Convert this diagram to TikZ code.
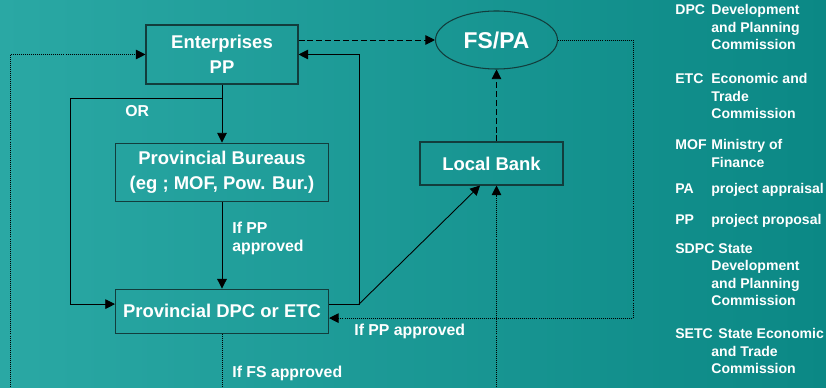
\documentclass[tikz,border=0pt]{standalone}
\usepackage{fontspec}
\setmainfont{Liberation Sans}
\usetikzlibrary{shapes.geometric, arrows.meta, positioning, calc}
\definecolor{bgLight}{HTML}{2AA8A4}
\definecolor{bgDark}{HTML}{0B8885}
\definecolor{boxLine}{HTML}{123D3C}
\newcommand{\legEntry}[4]{%
	\node[legend, anchor=north west] (#1) at (13.5,#2) {#3};
	\node[legend, anchor=north west, align=left] (#1-txt) at (14.22,#2) {#4};}

\begin{document}
\begin{tikzpicture}[
	box/.style={draw=boxLine, line width=0.6pt, text=white, align=center, font=\fontsize{10.5}{14.5}\selectfont\bfseries},
	lbl/.style={text=white, inner sep=0pt, align=left, font=\fontsize{9}{10}\selectfont\bfseries},
	legend/.style={text=white, inner sep=0pt, font=\fontsize{8}{10}\selectfont\bfseries},
	flow/.style={line width=0.5pt, -{Triangle[length=5.5pt,width=5.5pt]}},
	dashflow/.style={flow, dash pattern=on 3.4pt off 1.7pt},
	dotline/.style={line width=0.55pt, dash pattern=on 0.55pt off 0.6pt},
	dotflow/.style={dotline, -{Triangle[length=5.5pt,width=5.5pt]}}]
					\useasboundingbox (0,0) rectangle (16.52,7.74);
					\shade[left color=bgLight, right color=bgDark] (0,0) rectangle (16.52,7.74);
					\node[box, minimum width=3.04cm, minimum height=1.18cm] (ent) at (4.44,6.65) {Enterprises\\PP};
					\node[box, minimum width=4.26cm, minimum height=1.16cm, below=1.16cm of ent] (bur) {Provincial Bureaus\\(eg ; MOF, Pow. Bur.)};
					\node[box, minimum width=4.26cm, minimum height=0.88cm, below=1.74cm of bur] (dpc) {Provincial DPC or ETC};
					\node[box, minimum width=2.86cm, minimum height=0.86cm] (bank) at (9.83,4.47) {Local Bank};
					\node[ellipse, draw=boxLine, line width=0.6pt, text=white, inner sep=0pt, minimum width=2.44cm, minimum height=1.16cm, font=\fontsize{13}{15}\selectfont\bfseries] (fspa) at (9.93,6.94) {FS/PA};
					\draw[flow] (ent.south) -- (ent.south |- bur.north);
					\draw[flow] (bur.south) -- (bur.south |- dpc.north);
					\coordinate (orsplit) at ($(ent.south)+(0,-0.28)$);
					\coordinate (orleft) at (orsplit -| 1.4,0);
					\draw[flow] (orsplit) -- (orleft) |- ([yshift=0.14cm]dpc.west);
					\coordinate (dpcout) at ([yshift=0.14cm]dpc.east);
					\coordinate (rcorner) at (dpcout -| 7.18,0);
					\draw[flow] (dpcout) -- (rcorner) |- (ent.east);
					\draw[flow] (rcorner) -- ([xshift=-0.23cm]bank.south);
					\draw[dashflow] (fspa.west -| ent.east) -- (fspa.west);
					\draw[dashflow] (bank.north -| fspa.south) -- (fspa.south);
					\coordinate (rdot) at (fspa.east -| 12.66,0);
					\draw[dotflow] (fspa.east) -- (rdot) |- ([yshift=-0.14cm]dpc.east);
					\coordinate (bankfoot) at (fspa.south |- 0,0);
					\draw[dotflow] (bankfoot) -- (bankfoot |- bank.south);
					\coordinate (dpcfoot) at (dpc.south |- 0,0);
					\draw[dotline] (dpc.south) -- (dpcfoot);
					\coordinate (lfoot) at (0.2,0);
					\draw[dotflow] (lfoot) |- (ent.west);
					\node[lbl, anchor=base west] (orlbl) at (2.5,5.4) {OR};
					\node[lbl, anchor=north west] (ppok) at (4.64,3.3) {If PP\\approved};
					\node[lbl, anchor=base west] (ppback) at (7.08,1.02) {If PP approved};
					\node[lbl, anchor=base west] (fsok) at (4.64,0.19) {If FS approved};
					\legEntry{dpcl}{7.66}{DPC}{Development\\and Planning\\Commission}
					\legEntry{etcl}{6.28}{ETC}{Economic and\\Trade\\Commission}
					\legEntry{mofl}{4.96}{MOF}{Ministry of\\Finance}
					\legEntry{pal}{4.08}{PA}{project appraisal}
					\legEntry{ppl}{3.46}{PP}{project proposal}
					\legEntry{sdpcl}{2.88}{SDPC}{\hspace*{4pt}State\\Development\\and Planning\\Commission}
					\legEntry{setcl}{1.18}{SETC}{\hspace*{4pt}State Economic\\and Trade\\Commission}
				\end{tikzpicture}
\end{document}
